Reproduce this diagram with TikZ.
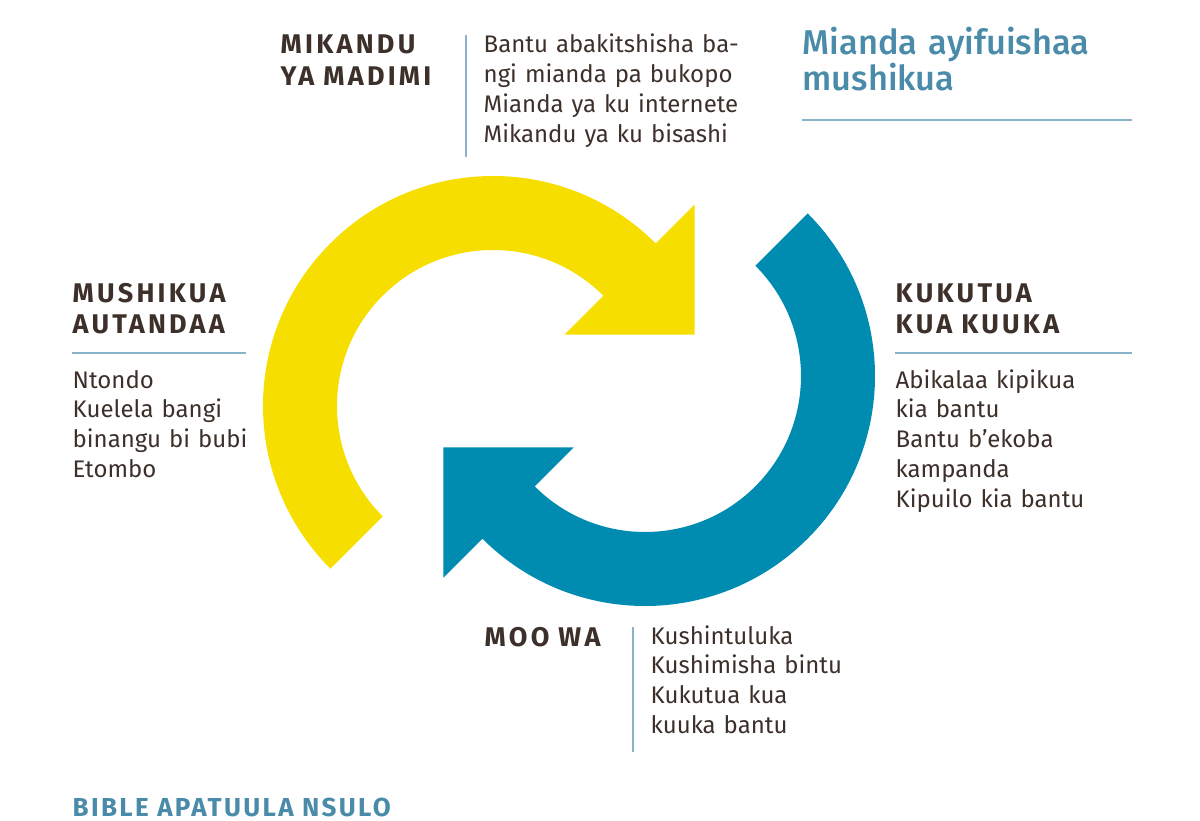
\documentclass[tikz,border=0pt]{standalone}
\usepackage{fontspec}
\setmainfont{Fira Sans}
\newfontfamily\headfont{Fira Sans}[LetterSpace=12,WordSpace=1.5]
\newfontfamily\footfont{Fira Sans}[LetterSpace=9]
\newfontfamily\titlefont{Fira Sans Medium}
\usetikzlibrary{calc}
\definecolor{arcyellow}{HTML}{F6DF00}
\definecolor{arcblue}{HTML}{008BB1}
\definecolor{inkbrown}{HTML}{3D302B}
\definecolor{titleblue}{HTML}{4A8BAA}
\definecolor{rulegray}{HTML}{8AB3C9}

\begin{document}
\begin{tikzpicture}[x=1pt,y=-1pt,line width=1.4pt,
  headtext/.style={anchor=base west,inner sep=0pt,text width=260pt,align=left,text=inkbrown,font=\headfont\bfseries\fontsize{27}{32}\selectfont},
  bodytext/.style={anchor=base west,inner sep=0pt,text width=300pt,align=left,text=inkbrown,font=\fontsize{24}{29.8}\selectfont},
  titletext/.style={anchor=base west,inner sep=0pt,text width=360pt,align=left,text=titleblue,font=\titlefont\fontsize{34.4}{34}\selectfont},
  foottext/.style={anchor=base west,inner sep=0pt,text=titleblue,font=\footfont\bfseries\fontsize{26}{28}\selectfont},
  sepline/.style={draw=rulegray,line width=1.5pt}]
\useasboundingbox (0,0) rectangle (1200,821);
\coordinate (ycen) at (493,406);
\coordinate (bcen) at (645,376);
\fill[arcyellow] ($(ycen)+(135:230)$) arc[start angle=135,end angle=315,radius=230]
  -- ($(ycen)+(315:285)$) -- ($(ycen)+(315:193)+(45:92)$) -- ($(ycen)+(315:101)$)
  -- ($(ycen)+(315:156)$) arc[start angle=315,end angle=135,radius=156] -- cycle;
\fill[arcblue] ($(bcen)+(315:230)$) arc[start angle=315,end angle=495,radius=230]
  -- ($(bcen)+(135:285)$) -- ($(bcen)+(135:193)+(225:92)$) -- ($(bcen)+(135:101)$)
  -- ($(bcen)+(135:156)$) arc[start angle=495,end angle=315,radius=156] -- cycle;
\node[headtext] (madimi) at (280,54) {MIKANDU\\YA MADIMI};
\node[bodytext] (madimilist) at (483,53) {Bantu abakitshisha ba-\\ngi mianda pa bukopo\\Mianda ya ku internete\\Mikandu ya ku bisashi};
\node[titletext] (mushikua) at (802,55) {Mianda ayifuishaa\\mushikua};
\node[headtext] (autandaa) at (72,302) {MUSHIKUA\\AUTANDAA};
\node[bodytext] (autandaalist) at (72,388) {Ntondo\\Kuelela bangi\\binangu bi bubi\\Etombo};
\node[headtext] (kuuka) at (895,302) {KUKUTUA\\KUA KUUKA};
\node[bodytext] (kuukalist) at (895,388) {Abikalaa kipikua\\kia bantu\\Bantu b’ekoba\\kampanda\\Kipuilo kia bantu};
\node[headtext] (moowa) at (484,646) {MOO WA};
\node[bodytext] (moowalist) at (650,644) {Kushintuluka\\Kushimisha bintu\\Kukutua kua\\kuuka bantu};
\node[foottext] (nsulo) at (72,816) {BIBLE APATUULA NSULO};
\draw[sepline] (466,35) -- (466,157);
\draw[sepline] (802,120) -- (1132,120);
\draw[sepline] (72,353) -- (246,353);
\draw[sepline] (895,353) -- (1132,353);
\draw[sepline] (633,627) -- (633,752);
\end{tikzpicture}
\end{document}
